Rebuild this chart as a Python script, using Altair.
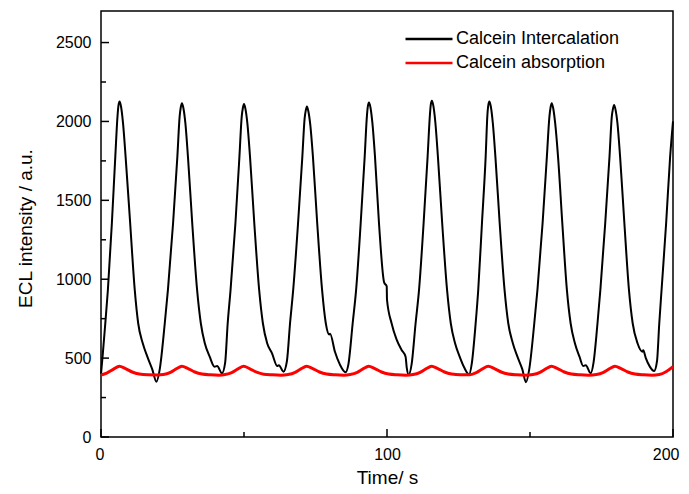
import altair as alt
import pandas as pd

# ---- data ----
black_t = [0, 0.6, 1.5, 2.4, 3.8, 5.0, 5.8, 6.1, 6.5, 7.0,
           7.7, 8.6, 10.2, 11.8, 13.0, 14.6, 16.2, 17.9, 19.4,
           20.5, 22.3, 23.4, 25.2, 26.7, 27.5, 27.9, 28.3, 28.8,
           29.5, 30.4, 31.9, 33.6, 34.9, 36.3, 38.0, 39.7, 40.6, 42.3,
           43.4, 44.3, 45.3, 47.0, 48.4, 49.2, 49.6, 50.0, 50.5,
           51.2, 52.1, 53.6, 55.3, 56.6, 58.1, 59.8, 61.6, 62.2, 63.8,
           65.0, 66.1, 67.2, 68.9, 70.4, 71.2, 71.6, 72.0, 72.5,
           73.2, 74.1, 75.6, 77.3, 78.6, 79.8, 80.1, 81.8, 83.5, 85.5,
           86.5, 88.0, 89.2, 90.8, 92.2, 93.0, 93.3, 93.7, 94.2,
           94.9, 95.8, 97.2, 99.0, 99.9, 100.0, 101.6, 103.3, 105.1, 106.5, 106.9, 107.6,
           108.6, 110.0, 111.2, 112.8, 114.2, 115.0, 115.3, 115.7, 116.2,
           116.9, 117.8, 119.3, 121.0, 122.3, 123.8, 125.4, 127.0, 128.7,
           129.6, 131.0, 131.9, 133.2, 134.5, 135.1, 135.4, 135.8, 136.3,
           137.0, 137.9, 139.4, 141.1, 142.4, 144.0, 145.6, 147.3, 148.6,
           149.7, 151.5, 152.6, 154.4, 155.9, 156.8, 157.2, 157.6, 158.1,
           158.8, 159.8, 161.3, 162.9, 164.2, 165.7, 167.3, 168.6, 169.5, 171.2,
           172.2, 173.6, 174.6, 176.3, 177.8, 178.6, 179.0, 179.4, 179.9,
           180.6, 181.5, 183.0, 184.6, 185.9, 187.6, 189.3, 189.6, 190.5, 191.9, 193.4,
           194.4, 195.2, 196.0, 197.6, 199.0, 200.0]
black_v = [400, 520, 720, 930, 1355, 1777, 2040, 2100, 2126, 2095,
           1989, 1777, 1355, 932, 721, 594, 509, 430, 350,
           425, 721, 932, 1355, 1777, 2032, 2090, 2115, 2085,
           1989, 1777, 1355, 932, 721, 594, 509, 446, 450, 404,
           470, 721, 932, 1355, 1777, 2030, 2085, 2110, 2080,
           1985, 1777, 1355, 932, 721, 594, 530, 450, 455, 414,
           480, 721, 932, 1355, 1777, 2020, 2070, 2095, 2065,
           1975, 1777, 1355, 932, 721, 650, 655, 540, 460, 410,
           460, 721, 932, 1355, 1777, 2040, 2095, 2120, 2090,
           1989, 1777, 1355, 980, 955, 870, 721, 620, 552, 509, 440, 395,
           460, 721, 932, 1355, 1777, 2040, 2105, 2131, 2100,
           1995, 1777, 1355, 932, 721, 594, 509, 440, 397,
           460, 721, 932, 1355, 1777, 2040, 2100, 2126, 2095,
           1990, 1777, 1355, 932, 721, 594, 509, 430, 347,
           425, 721, 932, 1355, 1777, 2032, 2090, 2116, 2085,
           1989, 1777, 1355, 932, 721, 594, 509, 450, 455, 404,
           470, 721, 932, 1355, 1777, 2030, 2080, 2105, 2075,
           1985, 1777, 1355, 932, 721, 594, 540, 550, 500, 446, 418,
           480, 721, 932, 1355, 1777, 2000]

red_t = [0, 2.0, 4.4, 6.4, 8.4, 10.9, 13.4, 16.4, 19.4, 21.8,
         24.3, 26.3, 28.3, 30.3, 32.8, 35.3, 38.3, 41.3, 43.4,
         45.9, 47.9, 49.9, 51.9, 54.4, 56.9, 59.9, 62.9, 65.4,
         67.9, 69.9, 71.9, 73.9, 76.4, 78.9, 81.9, 84.9, 87.1,
         89.6, 91.6, 93.6, 95.6, 98.1, 100.6, 103.6, 106.6, 109.1,
         111.6, 113.6, 115.6, 117.6, 120.1, 122.6, 125.6, 128.9,
         131.4, 133.4, 135.4, 137.4, 139.9, 142.4, 145.4, 148.4, 151.0,
         153.5, 155.5, 157.5, 159.5, 162.0, 164.5, 167.5, 170.5, 173.2,
         175.7, 177.7, 179.7, 181.7, 184.2, 186.7, 189.7, 192.7, 195.2,
         197.7, 200.0]
red_v = [393, 405, 430, 448, 435, 412, 399, 394, 393, 396,
         410, 432, 449, 435, 412, 399, 394, 392, 396,
         410, 432, 448, 434, 411, 398, 394, 392, 396,
         410, 432, 449, 435, 412, 399, 394, 392, 396,
         410, 432, 449, 435, 412, 399, 394, 392, 396,
         410, 432, 449, 435, 412, 399, 394, 395,
         410, 432, 448, 435, 412, 399, 394, 392, 396,
         410, 432, 449, 435, 412, 399, 394, 392, 396,
         410, 432, 449, 435, 412, 399, 394, 392, 396,
         415, 446]

series_names = ["Calcein Intercalation", "Calcein absorption"]
series_colors = ["#000000", "#ff0000"]

x_major = [0, 100, 200]
x_minor = [50, 150]
y_major = [0, 500, 1000, 1500, 2000, 2500]
y_minor = [250, 750, 1250, 1750, 2250]

FONT = "Liberation Sans"

black_df = pd.DataFrame({"t": black_t, "v": black_v, "s": series_names[0]})
red_df = pd.DataFrame({"t": red_t, "v": red_v, "s": series_names[1]})

xs = alt.Scale(domain=[0, 200], nice=False, zero=False)
ys = alt.Scale(domain=[0, 2700], nice=False)
cs = alt.Scale(domain=series_names, range=series_colors)

x_axis = alt.Axis(values=x_major, format="d", ticks=False, grid=False, domain=False,
                  labelFontSize=16, labelPadding=9, labelColor="black",
                  labelFlush=True, labelFlushOffset=6,
                  labelFont=FONT, title="Time/ s", titleFont=FONT,
                  titleFontSize=19, titleFontWeight="normal", titleColor="black",
                  titleX=286, titleY=46, titleBaseline="alphabetic", titleAlign="center")
y_axis = alt.Axis(values=y_major, format="d", ticks=False, grid=False, domain=False,
                  labelFontSize=16, labelPadding=10, labelColor="black",
                  labelFont=FONT, title="ECL intensity / a.u.", titleFont=FONT,
                  titleFontSize=19, titleFontWeight="normal", titleColor="black",
                  titleX=-76, titleY=217, titleBaseline="middle", titleAlign="center",
                  titleAngle=-90)

legend = alt.Legend(title=None, orient="none", legendX=303, legendY=19,
                    symbolType="stroke", symbolSize=2209, symbolStrokeWidth=2.5,
                    clipHeight=18, rowPadding=6, padding=0, labelOffset=2, labelLimit=0,
                    labelFont=FONT, labelFontSize=18, labelColor="black")

black_line = alt.Chart(black_df).mark_line(strokeWidth=2, interpolate="monotone").encode(
    x=alt.X("t:Q", scale=xs, axis=x_axis),
    y=alt.Y("v:Q", scale=ys, axis=y_axis),
    color=alt.Color("s:N", scale=cs, legend=legend),
)
red_line = alt.Chart(red_df).mark_line(strokeWidth=3, interpolate="monotone").encode(
    x=alt.X("t:Q", scale=xs),
    y=alt.Y("v:Q", scale=ys),
    color=alt.Color("s:N", scale=cs, legend=legend),
)

yt_major = alt.Chart(pd.DataFrame({"v": y_major})).mark_rule(color="black", strokeWidth=1.5).encode(
    y=alt.Y("v:Q", scale=ys), x=alt.value(0), x2=alt.value(8))
yt_minor = alt.Chart(pd.DataFrame({"v": y_minor})).mark_rule(color="black", strokeWidth=1.5).encode(
    y=alt.Y("v:Q", scale=ys), x=alt.value(0), x2=alt.value(5))
xt_major = alt.Chart(pd.DataFrame({"t": x_major})).mark_rule(color="black", strokeWidth=1.5).encode(
    x=alt.X("t:Q", scale=xs), y=alt.value(426), y2=alt.value(418))
xt_minor = alt.Chart(pd.DataFrame({"t": x_minor})).mark_rule(color="black", strokeWidth=1.5).encode(
    x=alt.X("t:Q", scale=xs), y=alt.value(426), y2=alt.value(421))

chart = alt.layer(black_line, red_line, yt_major, yt_minor, xt_major, xt_minor).properties(
    width=572, height=426,
    padding={"left": 93, "top": 3, "right": 8, "bottom": 49},
    autosize=alt.AutoSizeParams(type="none"),
    background="white",
).configure_view(stroke="black", strokeWidth=1.5)

chart.save("out.html", embed_options={"renderer": "svg", "actions": False})
